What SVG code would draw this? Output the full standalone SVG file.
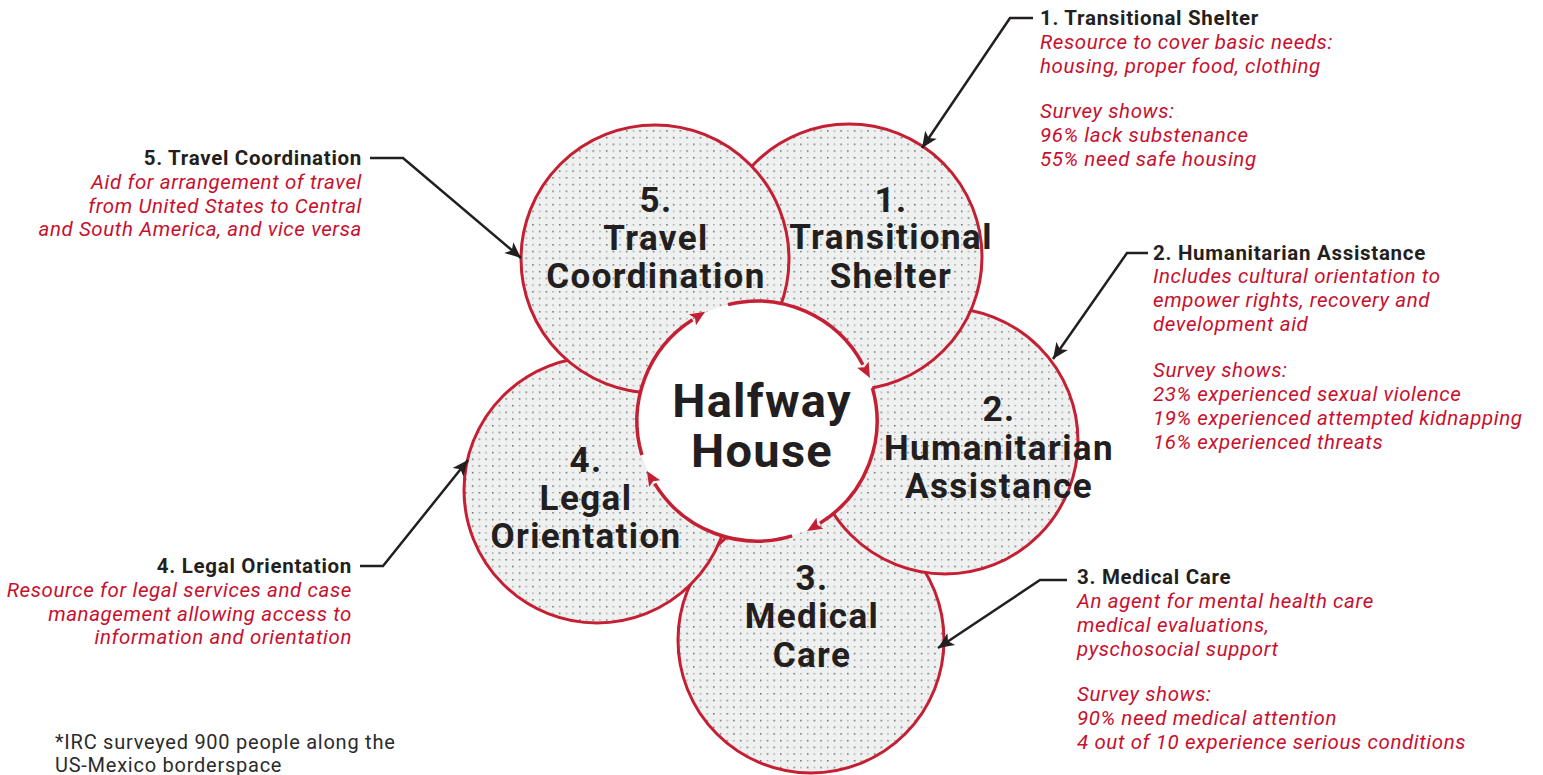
<svg xmlns="http://www.w3.org/2000/svg" width="1543" height="775" viewBox="0 0 1543 775">
<style>
.ring{fill:url(#dots);stroke:#c41f32;stroke-width:3}
.lbl{font-family:Roboto,"Liberation Sans",sans-serif;font-weight:700;font-size:35px;letter-spacing:1.4px;fill:#231f20;text-anchor:middle}
.hh{font-family:Roboto,"Liberation Sans",sans-serif;font-weight:700;font-size:47px;letter-spacing:1.3px;fill:#231f20;text-anchor:middle}
.hd{font-family:Roboto,"Liberation Sans",sans-serif;font-weight:700;font-size:20.5px;letter-spacing:0.7px;fill:#231f20}
.ds{font-family:Roboto,"Liberation Sans",sans-serif;font-style:italic;font-size:20.5px;letter-spacing:0.6px;fill:#c8102e}
.fn{font-family:Roboto,"Liberation Sans",sans-serif;font-size:20px;letter-spacing:0.75px;fill:#2b2b2b}
.end{text-anchor:end}
.con{fill:none;stroke:#231f20;stroke-width:2.5;marker-end:url(#blk)}
.cyc{fill:none;stroke:#c41f32;stroke-width:3.5;marker-end:url(#red)}
</style>
<defs>
<pattern id="dots" patternUnits="userSpaceOnUse" width="13.4" height="13.4">
<rect width="13.4" height="13.4" fill="#eff0f0"/>
<rect x="3" y="3" width="1.3" height="1.3" fill="#3a3a3a"/>
<rect x="9.7" y="3" width="1.3" height="1.3" fill="#909090"/>
<rect x="3" y="9.7" width="1.3" height="1.3" fill="#909090"/>
<rect x="9.7" y="9.7" width="1.3" height="1.3" fill="#3a3a3a"/>
</pattern>
<marker id="blk" markerUnits="userSpaceOnUse" viewBox="-17 -8 18 16" markerWidth="18" markerHeight="16" refX="0" refY="0" orient="auto">
<path d="M0,0 L-16,-7 L-12,0 L-16,7 z" fill="#231f20"/>
</marker>
<marker id="red" markerUnits="userSpaceOnUse" viewBox="-1 -8 18 16" markerWidth="18" markerHeight="16" refX="0" refY="0" orient="auto">
<path d="M15,0 L0,-6.5 L3,0 L0,6.5 z" fill="#c41f32"/>
</marker>
</defs>
<rect width="1543" height="775" fill="#ffffff"/>

<g id="node-3-medical-care">
<circle class="ring" cx="811" cy="640" r="133"/>
</g>
<g id="node-2-humanitarian-assistance">
<circle class="ring" cx="945" cy="441" r="133"/>
</g>
<g id="node-4-legal-orientation">
<circle class="ring" cx="597" cy="490" r="133"/>
</g>
<g id="node-1-transitional-shelter">
<circle class="ring" cx="849" cy="257" r="133"/>
</g>
<g id="node-5-travel-coordination">
<circle class="ring" cx="655" cy="259" r="134"/>
</g>

<g id="node-halfway-house">
<circle cx="757" cy="421" r="120" fill="#ffffff"/>
<text class="hh" x="762" y="417">Halfway</text>
<text class="hh" x="762" y="467">House</text>
</g>

<g id="circle-labels">
<text class="lbl" x="891" y="212">1.</text>
<text class="lbl" x="891" y="249">Transitional</text>
<text class="lbl" x="891" y="288">Shelter</text>
<text class="lbl" x="656" y="212">5.</text>
<text class="lbl" x="656" y="250">Travel</text>
<text class="lbl" x="656" y="288">Coordination</text>
<text class="lbl" x="999" y="421">2.</text>
<text class="lbl" x="999" y="460">Humanitarian</text>
<text class="lbl" x="999" y="498">Assistance</text>
<text class="lbl" x="586" y="472">4.</text>
<text class="lbl" x="586" y="510">Legal</text>
<text class="lbl" x="586" y="548">Orientation</text>
<text class="lbl" x="812" y="590">3.</text>
<text class="lbl" x="812" y="628">Medical</text>
<text class="lbl" x="812" y="667">Care</text>
</g>

<g id="connectors">
<path class="cyc" d="M641.9,455.1 A120,120 0 0 1 692.5,319.8"/>
<path class="cyc" d="M728.0,304.6 A120,120 0 0 1 862.9,364.7"/>
<path class="cyc" d="M872.4,387.9 A120,120 0 0 1 819.9,523.2"/>
<path class="cyc" d="M792.1,535.8 A120,120 0 0 1 654.7,483.7"/>
<polyline class="con" points="1033,18 1010,18 922,148"/>
<polyline class="con" points="1148,253 1127,253 1053,359"/>
<polyline class="con" points="1067,580 1040,580 938,648"/>
<polyline class="con" points="360,566 383,566 468,460"/>
<polyline class="con" points="370,158 403,158 521,258"/>
</g>

<g id="callout-1">
<text class="hd" x="1040" y="25">1. Transitional Shelter</text>
<text class="ds" x="1040" y="49">Resource to cover basic needs:</text>
<text class="ds" x="1040" y="73">housing, proper food, clothing</text>
<text class="ds" x="1040" y="118">Survey shows:</text>
<text class="ds" x="1040" y="142">96% lack substenance</text>
<text class="ds" x="1040" y="166">55% need safe housing</text>
</g>
<g id="callout-2">
<text class="hd" x="1153" y="260">2. Humanitarian Assistance</text>
<text class="ds" x="1153" y="283">Includes cultural orientation to</text>
<text class="ds" x="1153" y="307">empower rights, recovery and</text>
<text class="ds" x="1153" y="331">development aid</text>
<text class="ds" x="1153" y="377">Survey shows:</text>
<text class="ds" x="1153" y="401">23% experienced sexual violence</text>
<text class="ds" x="1153" y="425">19% experienced attempted kidnapping</text>
<text class="ds" x="1153" y="449">16% experienced threats</text>
</g>
<g id="callout-3">
<text class="hd" x="1077" y="584">3. Medical Care</text>
<text class="ds" x="1077" y="608">An agent for mental health care</text>
<text class="ds" x="1077" y="632">medical evaluations,</text>
<text class="ds" x="1077" y="656">pyschosocial support</text>
<text class="ds" x="1077" y="701">Survey shows:</text>
<text class="ds" x="1077" y="725">90% need medical attention</text>
<text class="ds" x="1077" y="749">4 out of 10 experience serious conditions</text>
</g>
<g id="callout-4">
<text class="hd end" x="352" y="573">4. Legal Orientation</text>
<text class="ds end" x="352" y="597">Resource for legal services and case</text>
<text class="ds end" x="352" y="621">management allowing access to</text>
<text class="ds end" x="352" y="644">information and orientation</text>
</g>
<g id="callout-5">
<text class="hd end" x="362" y="165">5. Travel Coordination</text>
<text class="ds end" x="362" y="189">Aid for arrangement of travel</text>
<text class="ds end" x="362" y="213">from United States to Central</text>
<text class="ds end" x="362" y="236">and South America, and vice versa</text>
</g>
<g id="footnote">
<text class="fn" x="55" y="749">*IRC surveyed 900 people along the</text>
<text class="fn" x="55" y="772">US-Mexico borderspace</text>
</g>
</svg>
